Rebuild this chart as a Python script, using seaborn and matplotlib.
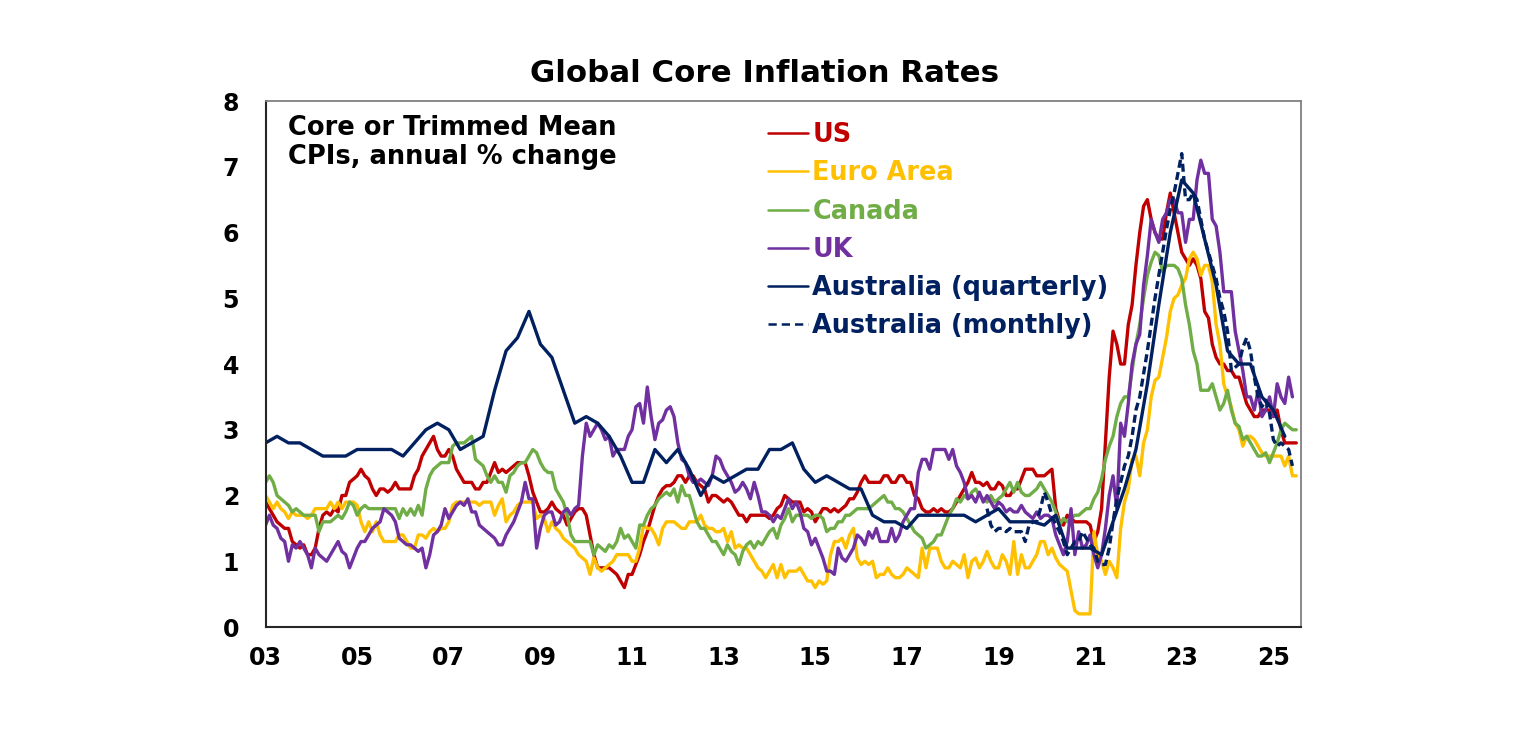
"""
plot.py

Global core inflation rates: core / trimmed mean CPIs, annual % change.
US, Euro Area, Canada and UK monthly, Australia quarterly and monthly.
"""

import numpy as np
import pandas as pd
import matplotlib
matplotlib.use("Agg")
import matplotlib.pyplot as plt
import seaborn as sns

# Monthly series start in Dec 2002 (plotted at 2003.0), then Jan..Dec rows
us_core = [
    1.9,
    1.8, 1.7, 1.6, 1.55, 1.5, 1.5, 1.3, 1.25, 1.2, 1.25, 1.1, 1.1,        # 2003
    1.2, 1.5, 1.7, 1.75, 1.7, 1.8, 1.75, 2.0, 2.0, 2.2, 2.25, 2.3,        # 2004
    2.4, 2.3, 2.25, 2.1, 2.0, 2.1, 2.1, 2.05, 2.1, 2.2, 2.1, 2.1,         # 2005
    2.1, 2.1, 2.3, 2.4, 2.6, 2.7, 2.8, 2.9, 2.7, 2.6, 2.6, 2.7,           # 2006
    2.6, 2.4, 2.3, 2.2, 2.2, 2.2, 2.1, 2.1, 2.2, 2.2, 2.35, 2.5,          # 2007
    2.35, 2.4, 2.35, 2.4, 2.45, 2.5, 2.5, 2.5, 2.3, 2.05, 1.9, 1.75,      # 2008
    1.75, 1.8, 1.9, 1.8, 1.75, 1.7, 1.55, 1.65, 1.75, 1.8, 1.8, 1.7,      # 2009
    1.4, 1.1, 0.9, 0.9, 0.9, 0.9, 0.85, 0.8, 0.7, 0.6, 0.8, 0.8,          # 2010
    0.95, 1.1, 1.3, 1.45, 1.65, 1.85, 2.0, 2.1, 2.15, 2.15, 2.2, 2.3,     # 2011
    2.3, 2.2, 2.3, 2.3, 2.2, 2.15, 2.1, 1.9, 2.0, 2.0, 1.95, 1.9,         # 2012
    1.95, 1.9, 1.8, 1.7, 1.7, 1.6, 1.7, 1.7, 1.7, 1.7, 1.7, 1.65,         # 2013
    1.7, 1.8, 1.85, 2.0, 1.95, 1.9, 1.9, 1.9, 1.75, 1.8, 1.75, 1.6,       # 2014
    1.7, 1.8, 1.8, 1.75, 1.8, 1.75, 1.8, 1.85, 1.95, 1.95, 2.05, 2.2,     # 2015
    2.3, 2.2, 2.2, 2.2, 2.2, 2.3, 2.3, 2.2, 2.2, 2.3, 2.3, 2.2,           # 2016
    2.2, 2.0, 1.95, 1.8, 1.75, 1.75, 1.8, 1.75, 1.8, 1.75, 1.75, 1.8,     # 2017
    1.9, 2.0, 2.1, 2.2, 2.35, 2.2, 2.2, 2.15, 2.2, 2.1, 2.1, 2.2,         # 2018
    2.15, 2.0, 2.0, 2.1, 2.1, 2.25, 2.4, 2.4, 2.4, 2.3, 2.3, 2.3,         # 2019
    2.35, 2.4, 1.8, 1.6, 1.55, 1.7, 1.65, 1.6, 1.6, 1.6, 1.6, 1.55,       # 2020
    1.3, 1.45, 1.8, 2.8, 3.8, 4.5, 4.3, 4.0, 4.0, 4.6, 4.9, 5.5,          # 2021
    6.0, 6.4, 6.5, 6.2, 6.0, 5.9, 5.9, 6.3, 6.6, 6.3, 6.0, 5.7,           # 2022
    5.6, 5.5, 5.6, 5.5, 5.3, 4.8, 4.7, 4.3, 4.1, 4.0, 4.0, 3.9,           # 2023
    3.9, 3.8, 3.8, 3.6, 3.4, 3.3, 3.2, 3.2, 3.3, 3.3, 3.3, 3.2,           # 2024
    3.3, 3.0, 2.8, 2.8, 2.8, 2.8,                                         # 2025
]

euro_core = [
    2.0,
    1.9, 1.8, 1.9, 1.8, 1.75, 1.65, 1.75, 1.7, 1.7, 1.7, 1.65, 1.7,       # 2003
    1.8, 1.8, 1.8, 1.8, 1.9, 1.8, 1.9, 1.8, 1.9, 1.9, 1.9, 1.85,          # 2004
    1.6, 1.45, 1.6, 1.45, 1.6, 1.4, 1.3, 1.3, 1.3, 1.3, 1.4, 1.4,         # 2005
    1.3, 1.2, 1.2, 1.4, 1.4, 1.35, 1.45, 1.5, 1.45, 1.5, 1.5, 1.6,        # 2006
    1.85, 1.9, 1.9, 1.9, 1.9, 1.9, 1.9, 1.85, 1.9, 1.9, 1.9, 1.7,         # 2007
    1.85, 1.95, 1.6, 1.7, 1.75, 1.85, 1.9, 1.9, 1.9, 1.9, 1.65, 1.7,      # 2008
    1.65, 1.45, 1.6, 1.5, 1.45, 1.35, 1.3, 1.25, 1.2, 1.1, 1.05, 1.0,     # 2009
    0.8, 1.05, 0.9, 0.85, 0.9, 0.95, 1.0, 1.1, 1.1, 1.1, 1.1, 1.0,        # 2010
    1.0, 1.2, 1.55, 1.5, 1.5, 1.4, 1.25, 1.5, 1.6, 1.6, 1.6, 1.55,        # 2011
    1.5, 1.5, 1.6, 1.6, 1.6, 1.7, 1.55, 1.5, 1.5, 1.45, 1.45, 1.5,        # 2012
    1.3, 1.45, 1.2, 1.25, 1.2, 1.2, 1.1, 1.0, 0.9, 0.85, 0.75, 0.85,      # 2013
    0.95, 0.75, 0.95, 0.75, 0.85, 0.85, 0.85, 0.9, 0.8, 0.7, 0.7, 0.6,    # 2014
    0.7, 0.65, 0.7, 1.1, 1.3, 1.3, 1.35, 1.2, 1.4, 1.5, 1.05, 0.95,       # 2015
    1.0, 0.95, 1.0, 0.75, 0.8, 0.8, 0.9, 0.8, 0.75, 0.75, 0.8, 0.9,       # 2016
    0.85, 0.8, 0.75, 1.2, 0.9, 1.2, 1.2, 1.2, 1.0, 0.9, 0.9, 1.0,         # 2017
    0.95, 0.9, 1.1, 0.75, 1.0, 1.05, 0.9, 1.0, 1.15, 1.0, 0.9, 0.9,       # 2018
    1.1, 1.0, 0.8, 1.3, 0.8, 1.1, 0.9, 0.9, 1.0, 1.1, 1.3, 1.3,           # 2019
    1.1, 1.2, 1.05, 0.95, 0.9, 0.85, 0.55, 0.25, 0.2, 0.2, 0.2, 0.2,      # 2020
    1.45, 1.1, 1.0, 0.8, 1.0, 0.9, 0.75, 1.5, 1.9, 2.1, 2.55, 2.6,        # 2021
    2.3, 2.8, 3.0, 3.5, 3.75, 3.8, 4.1, 4.4, 4.8, 5.0, 5.05, 5.2,         # 2022
    5.3, 5.6, 5.7, 5.6, 5.35, 5.5, 5.5, 5.25, 4.6, 4.3, 3.7, 3.5,         # 2023
    3.35, 3.1, 3.0, 2.75, 2.9, 2.9, 2.85, 2.75, 2.65, 2.6, 2.6, 2.6,      # 2024
    2.6, 2.6, 2.45, 2.6, 2.3, 2.3,                                        # 2025
]

canada_core = [
    2.2,
    2.3, 2.2, 2.0, 1.95, 1.9, 1.85, 1.75, 1.8, 1.75, 1.7, 1.7, 1.7,       # 2003
    1.7, 1.45, 1.6, 1.6, 1.6, 1.65, 1.7, 1.65, 1.75, 1.9, 1.85, 1.7,      # 2004
    1.8, 1.85, 1.8, 1.8, 1.8, 1.8, 1.8, 1.8, 1.8, 1.8, 1.65, 1.8,         # 2005
    1.7, 1.8, 1.7, 1.85, 1.7, 2.1, 2.3, 2.4, 2.45, 2.5, 2.5, 2.5,         # 2006
    2.75, 2.8, 2.8, 2.8, 2.85, 2.9, 2.55, 2.5, 2.45, 2.3, 2.2, 2.3,       # 2007
    2.2, 2.2, 2.05, 2.3, 2.35, 2.45, 2.5, 2.5, 2.6, 2.7, 2.65, 2.5,       # 2008
    2.4, 2.35, 2.35, 2.1, 2.0, 1.9, 1.7, 1.4, 1.3, 1.3, 1.3, 1.3,         # 2009
    1.3, 1.1, 1.25, 1.2, 1.15, 1.25, 1.2, 1.3, 1.5, 1.35, 1.4, 1.3,       # 2010
    1.2, 1.55, 1.55, 1.7, 1.8, 1.85, 1.95, 2.0, 2.05, 2.0, 2.1, 1.9,      # 2011
    2.15, 2.0, 2.0, 1.8, 1.6, 1.5, 1.5, 1.4, 1.3, 1.3, 1.2, 1.1,          # 2012
    1.25, 1.15, 1.1, 0.95, 1.15, 1.25, 1.3, 1.2, 1.3, 1.25, 1.35, 1.45,   # 2013
    1.5, 1.35, 1.55, 1.65, 1.8, 1.6, 1.7, 1.7, 1.7, 1.7, 1.65, 1.7,       # 2014
    1.7, 1.65, 1.45, 1.5, 1.5, 1.6, 1.6, 1.7, 1.7, 1.75, 1.8, 1.8,        # 2015
    1.8, 1.8, 1.85, 1.9, 1.95, 2.0, 1.9, 1.9, 1.8, 1.8, 1.75, 1.65,       # 2016
    1.55, 1.45, 1.4, 1.35, 1.2, 1.25, 1.3, 1.4, 1.4, 1.55, 1.7, 1.8,      # 2017
    1.95, 1.9, 2.0, 1.95, 2.05, 2.1, 2.0, 1.95, 1.9, 2.0, 1.9, 1.95,      # 2018
    2.0, 2.1, 2.2, 2.05, 2.2, 2.05, 2.0, 2.0, 2.05, 2.1, 2.2, 2.1,        # 2019
    2.0, 1.9, 1.75, 1.55, 1.65, 1.6, 1.65, 1.7, 1.7, 1.75, 1.8, 1.8,      # 2020
    1.95, 2.05, 2.25, 2.55, 2.75, 2.9, 3.2, 3.4, 3.5, 3.5, 3.9, 4.3,      # 2021
    4.6, 5.0, 5.35, 5.55, 5.7, 5.65, 5.4, 5.5, 5.5, 5.5, 5.45, 5.3,       # 2022
    4.9, 4.6, 4.2, 4.0, 3.6, 3.6, 3.6, 3.7, 3.5, 3.3, 3.4, 3.6,           # 2023
    3.3, 3.1, 3.05, 2.85, 2.9, 2.8, 2.7, 2.6, 2.6, 2.65, 2.5, 2.65,       # 2024
    2.8, 3.0, 3.1, 3.05, 3.0, 3.0,                                        # 2025
]

uk_core = [
    1.55,
    1.7, 1.55, 1.5, 1.35, 1.3, 1.0, 1.25, 1.2, 1.3, 1.2, 1.1, 0.9,        # 2003
    1.2, 1.1, 1.05, 1.0, 1.1, 1.2, 1.3, 1.15, 1.1, 0.9, 1.05, 1.2,        # 2004
    1.3, 1.3, 1.4, 1.5, 1.55, 1.6, 1.8, 1.75, 1.7, 1.6, 1.35, 1.3,        # 2005
    1.25, 1.25, 1.2, 1.15, 1.2, 0.9, 1.1, 1.4, 1.45, 1.55, 1.8, 1.65,     # 2006
    1.75, 1.85, 1.9, 1.85, 1.95, 1.75, 1.75, 1.55, 1.5, 1.45, 1.4, 1.35,  # 2007
    1.25, 1.25, 1.4, 1.5, 1.6, 1.75, 1.9, 2.2, 1.95, 1.95, 1.2, 1.5,      # 2008
    1.7, 1.75, 1.75, 1.55, 1.6, 1.75, 1.8, 1.7, 1.8, 1.85, 2.6, 3.1,      # 2009
    2.9, 3.0, 3.1, 3.0, 2.85, 2.9, 2.6, 2.7, 2.7, 2.7, 2.9, 3.0,          # 2010
    3.35, 3.4, 3.1, 3.65, 3.2, 2.85, 3.1, 3.15, 3.3, 3.35, 3.2, 2.8,      # 2011
    2.55, 2.5, 2.3, 2.2, 2.2, 2.25, 2.2, 2.15, 2.3, 2.6, 2.55, 2.4,       # 2012
    2.3, 2.2, 2.05, 2.1, 2.2, 2.1, 1.95, 2.2, 2.0, 1.75, 1.75, 1.7,       # 2013
    1.6, 1.7, 1.65, 1.8, 1.95, 1.8, 1.9, 1.75, 1.5, 1.45, 1.25, 1.35,     # 2014
    1.2, 1.05, 0.85, 0.85, 0.8, 1.2, 1.05, 1.0, 1.1, 1.2, 1.4, 1.35,      # 2015
    1.25, 1.45, 1.35, 1.5, 1.3, 1.3, 1.3, 1.5, 1.3, 1.4, 1.6, 1.7,        # 2016
    1.8, 1.8, 2.35, 2.55, 2.55, 2.4, 2.7, 2.7, 2.7, 2.7, 2.55, 2.7,       # 2017
    2.45, 2.35, 2.2, 1.95, 2.0, 1.9, 2.05, 1.9, 2.0, 1.9, 1.8, 1.9,       # 2018
    1.85, 1.75, 1.8, 1.75, 1.75, 1.85, 1.75, 1.7, 1.65, 1.75, 1.65, 1.7,  # 2019
    1.7, 1.65, 1.4, 1.25, 1.1, 1.3, 1.8, 1.1, 1.45, 1.2, 1.25, 1.4,       # 2020
    1.1, 0.9, 1.1, 1.5, 2.0, 2.3, 1.8, 3.1, 2.9, 3.4, 4.0, 4.3,           # 2021
    4.45, 5.2, 5.65, 6.2, 6.0, 5.85, 6.2, 6.3, 6.5, 6.5, 6.3, 6.3,        # 2022
    5.85, 6.2, 6.2, 6.8, 7.1, 6.9, 6.9, 6.2, 6.1, 5.7, 5.1, 5.1,          # 2023
    5.1, 4.5, 4.2, 3.9, 3.5, 3.5, 3.3, 3.6, 3.2, 3.3, 3.5, 3.2,           # 2024
    3.7, 3.5, 3.4, 3.8, 3.5,                                              # 2025
]

# Australia trimmed mean, quarterly from Dec 2002 to Mar 2025
aus_quarterly = [
    2.8,
    2.9, 2.8, 2.8, 2.7,   # 2003
    2.6, 2.6, 2.6, 2.7,   # 2004
    2.7, 2.7, 2.7, 2.6,   # 2005
    2.8, 3.0, 3.1, 3.0,   # 2006
    2.7, 2.8, 2.9, 3.6,   # 2007
    4.2, 4.4, 4.8, 4.3,   # 2008
    4.1, 3.6, 3.1, 3.2,   # 2009
    3.1, 2.9, 2.6, 2.2,   # 2010
    2.2, 2.7, 2.5, 2.7,   # 2011
    2.4, 2.0, 2.3, 2.2,   # 2012
    2.3, 2.4, 2.4, 2.7,   # 2013
    2.7, 2.8, 2.4, 2.2,   # 2014
    2.3, 2.2, 2.1, 2.1,   # 2015
    1.7, 1.6, 1.6, 1.5,   # 2016
    1.7, 1.7, 1.7, 1.7,   # 2017
    1.7, 1.6, 1.7, 1.8,   # 2018
    1.6, 1.6, 1.6, 1.55,  # 2019
    1.7, 1.2, 1.2, 1.2,   # 2020
    1.1, 1.6, 2.1, 2.7,   # 2021
    3.7, 4.9, 6.0, 6.8,   # 2022
    6.6, 5.9, 5.2, 4.2,   # 2023
    4.0, 4.0, 3.5, 3.3,   # 2024
    2.9,                  # 2025
]

# Australia monthly CPI indicator trimmed mean, Sep 2018 to May 2025
aus_monthly_start = 189  # months after Dec 2002
aus_monthly = [
    1.8, 1.55, 1.45, 1.5,                                                 # 2018
    1.5, 1.45, 1.5, 1.45, 1.45, 1.45, 1.3, 1.55, 1.6, 1.6, 1.8, 2.05,     # 2019
    1.9, 1.7, 1.55, 1.45, 1.3, 1.1, 1.2, 1.3, 1.3, 1.45, 1.35, 1.25,      # 2020
    1.2, 1.0, 0.95, 0.95, 1.2, 1.6, 1.95, 2.2, 2.45, 2.6, 2.9, 3.3,       # 2021
    3.5, 3.85, 4.2, 4.6, 5.0, 5.35, 5.7, 6.05, 6.35, 6.6, 6.9, 7.2,       # 2022
    6.5, 6.5, 6.6, 6.5, 6.2, 5.9, 5.7, 5.5, 5.3, 5.0, 4.8, 4.5,           # 2023
    3.9, 3.95, 4.0, 4.25, 4.4, 4.2, 3.8, 3.5, 3.35, 3.45, 3.25, 2.85,     # 2024
    2.75, 2.8, 2.75, 2.7, 2.45,                                           # 2025
]

year_ticks = list(range(2003, 2026, 2))
tick_labels = [f"{y % 100:02d}" for y in year_ticks]

COLORS = {
    'US': '#C00000',
    'Euro Area': '#FFC000',
    'Canada': '#70AD47',
    'UK': '#7030A0',
    'Australia (quarterly)': '#002060',
    'Australia (monthly)': '#002060',
}


def build_frame():
    """Long table of all series with decimal-year positions."""
    parts = []
    monthly = [('US', us_core), ('Euro Area', euro_core),
               ('Canada', canada_core), ('UK', uk_core)]
    for name, vals in monthly:
        x = 2003 + np.arange(len(vals)) / 12
        parts.append(pd.DataFrame({'year': x, 'value': vals, 'series': name}))

    xq = 2003 + np.arange(len(aus_quarterly)) * 3 / 12
    parts.append(pd.DataFrame({'year': xq, 'value': aus_quarterly,
                               'series': 'Australia (quarterly)'}))

    xm = 2003 + (aus_monthly_start + np.arange(len(aus_monthly))) / 12
    parts.append(pd.DataFrame({'year': xm, 'value': aus_monthly,
                               'series': 'Australia (monthly)'}))
    return pd.concat(parts, ignore_index=True)


def main():
    sns.set_style("white")
    plt.rcParams['font.family'] = ['DejaVu Sans']
    plt.rcParams['text.color'] = 'black'

    df = build_frame()

    fig = plt.figure(figsize=(15.36, 7.33), dpi=100)
    ax = fig.add_axes([0.1729, 0.1446, 0.6740, 0.7176])

    for name in COLORS:
        sub = df[df['series'] == name]
        style = (0, (2.4, 1.3)) if name == 'Australia (monthly)' else '-'
        sns.lineplot(data=sub, x='year', y='value', ax=ax, color=COLORS[name],
                     linewidth=2.4, linestyle=style, label=name,
                     estimator=None, sort=False)

    ax.set_xlim(2003, 2025.6)
    ax.set_ylim(0, 8)
    ax.set_xticks(year_ticks)
    ax.set_xticklabels(tick_labels)
    ax.set_yticks(range(0, 9))
    ax.set_xlabel('')
    ax.set_ylabel('')

    ax.tick_params(axis='both', direction='out', length=6, width=1.3,
                   color='#262626', labelsize=17, labelcolor='black')
    ax.tick_params(axis='x', pad=8)
    ax.tick_params(axis='y', pad=13)
    for lab in ax.get_xticklabels() + ax.get_yticklabels():
        lab.set_fontweight('bold')

    for side in ['left', 'bottom']:
        ax.spines[side].set_color('#262626')
        ax.spines[side].set_linewidth(1.5)
    for side in ['top', 'right']:
        ax.spines[side].set_color('#808080')
        ax.spines[side].set_linewidth(1.3)

    leg = ax.legend(loc='upper left', bbox_to_anchor=(0.4854, 0.960),
                    frameon=False, prop={'weight': 'bold', 'size': 18.4},
                    handlelength=1.56, handletextpad=0.17, labelspacing=0.48,
                    borderpad=0, borderaxespad=0, labelcolor='linecolor')
    for line in leg.get_lines():
        line.set_linewidth(1.8)
        if line.get_label() == 'Australia (monthly)':
            line.set_dashes([3.3, 2.0])

    ax.text(0.0217, 0.974, 'Core or Trimmed Mean\nCPIs, annual % change',
            transform=ax.transAxes, ha='left', va='top', fontsize=18.5,
            fontweight='bold', linespacing=1.18, color='black')

    fig.text(0.4977, 0.8885, 'Global Core Inflation Rates', ha='center',
             va='baseline', fontsize=22.2, fontweight='bold', color='black')

    fig.savefig('out.png', dpi=100)
    plt.close(fig)


if __name__ == "__main__":
    main()
